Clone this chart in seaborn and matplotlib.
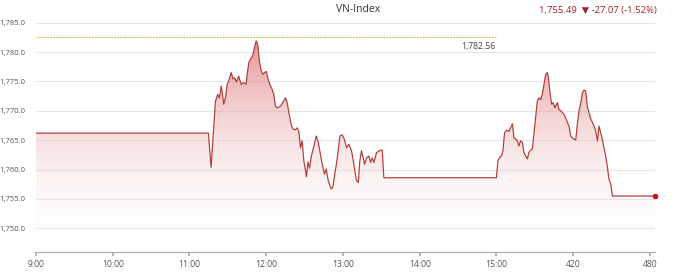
import numpy as np
import pandas as pd
import seaborn as sns
import matplotlib
matplotlib.use("Agg")
import matplotlib.pyplot as plt
from matplotlib.patches import Polygon
from matplotlib.colors import LinearSegmentedColormap

# ---- data ----
minutes = [0, 134.8, 136.9, 140.3, 142.1, 143.4, 144.8, 145.5, 146.8, 148.1, 149.5, 150.7,
           152.6, 154.1, 155.4, 156.7, 158.5, 160.4, 162.2, 164.3, 165.1, 166.4, 168.2, 169.2,
           170.8, 172.1, 173.4, 174.7, 176.1, 177.3, 178.6, 180.0, 181.2, 182.8, 184.7, 185.9,
           187.2, 188.6, 191.2, 193.7, 195.1, 196.4, 197.7, 199.0, 200.3, 201.6, 202.9, 204.2,
           205.5, 206.8, 208.1, 209.4, 211.5, 212.6, 213.9, 215.2, 217.2, 219.1, 220.4, 221.9,
           223.8, 225.6, 226.9, 228.5, 230.8, 232.1, 233.6, 235.5, 237.6, 239.4, 241.2, 242.8,
           244.6, 246.7, 248.5, 250.6, 252.0, 253.2, 254.5, 255.6, 256.9, 258.5, 260.3, 261.6,
           262.9, 264.2, 266.3, 269.4, 270.7, 272.0, 360.0, 361.2, 362.6, 363.9, 365.1, 366.4,
           368.0, 369.8, 371.1, 372.5, 373.7, 375.0, 376.4, 377.6, 378.9, 380.3, 381.5, 382.9,
           384.2, 385.4, 386.8, 388.1, 389.3, 390.7, 392.0, 393.3, 394.6, 395.9, 397.2, 398.5,
           399.8, 400.6, 401.9, 403.2, 404.5, 405.6, 407.7, 408.9, 410.3, 411.6, 412.8, 414.2,
           415.5, 416.8, 418.1, 419.4, 420.7, 422.0, 423.3, 424.6, 426.0, 427.3, 428.5, 429.8,
           431.2, 432.4, 433.7, 435.0, 436.3, 437.6, 439.0, 440.2, 441.5, 442.8, 444.1, 445.5,
           446.8, 448.0, 449.4, 450.7, 483.8]
values = [1766.2, 1766.2, 1760.4, 1771.6, 1772.8, 1772.2, 1774.2, 1773.3, 1771.1, 1772.2, 1774.5, 1775.1,
          1776.5, 1775.4, 1775.6, 1774.9, 1775.9, 1774.5, 1774.8, 1774.5, 1776.2, 1778.2, 1779.0, 1779.2,
          1780.7, 1781.9, 1781.3, 1778.4, 1776.8, 1776.2, 1776.5, 1776.7, 1775.6, 1774.5, 1773.6, 1772.8,
          1770.8, 1770.5, 1770.8, 1771.7, 1772.2, 1771.4, 1769.7, 1768.2, 1767.1, 1766.8, 1766.8, 1767.1,
          1766.5, 1763.7, 1764.9, 1761.5, 1758.8, 1761.3, 1760.2, 1762.2, 1763.9, 1765.7, 1764.9, 1763.2,
          1760.9, 1759.2, 1760.1, 1758.1, 1756.7, 1757.0, 1759.2, 1761.8, 1765.7, 1765.9, 1765.1, 1763.7,
          1764.3, 1763.2, 1760.9, 1758.1, 1757.8, 1761.5, 1763.2, 1762.3, 1760.9, 1762.0, 1762.3, 1761.2,
          1762.0, 1761.2, 1762.9, 1763.3, 1763.3, 1758.6, 1758.6, 1761.5, 1762.1, 1762.3, 1763.2, 1766.3,
          1766.7, 1766.5, 1767.1, 1767.8, 1765.4, 1765.2, 1764.9, 1764.0, 1764.9, 1764.6, 1762.9, 1762.3,
          1761.8, 1762.9, 1763.3, 1763.5, 1766.0, 1768.8, 1771.7, 1772.2, 1771.9, 1772.8, 1774.5, 1776.2,
          1776.5, 1775.7, 1773.1, 1771.1, 1771.4, 1770.5, 1771.4, 1770.2, 1770.0, 1769.7, 1769.4, 1768.8,
          1768.0, 1767.4, 1765.7, 1765.4, 1765.2, 1765.0, 1767.8, 1770.0, 1771.4, 1773.1, 1773.5, 1773.4,
          1770.6, 1769.7, 1768.6, 1768.1, 1767.4, 1766.6, 1764.9, 1767.4, 1766.3, 1765.2, 1763.7, 1762.3,
          1760.4, 1758.4, 1757.5, 1755.5, 1755.49]
ref_value = 1782.56
ref_end = 360
x_ticks = [0, 60, 120, 180, 240, 300, 360, 420, 480]
x_tick_labels = ["9:00", "10:00", "11:00", "12:00", "13:00", "14:00", "15:00", "420", "480"]
y_ticks = [1750, 1755, 1760, 1765, 1770, 1775, 1780, 1785]
title = "VN-Index"
summary = "1,755.49  \u25bc -27.07 (-1.52%)"

df = pd.DataFrame({"minute": minutes, "value": values})

sns.set_theme(style="white")
plt.rcParams["font.family"] = ["Open Sans", "DejaVu Sans"]

fig = plt.figure(figsize=(6.8, 2.72), dpi=100)
ax = fig.add_axes([36 / 680, 1 - 252 / 272, (655 - 36) / 680, (252 - 15) / 272])

ymin, ymax = 1745.97, 1786.3
xmin, xmax = 0, 484
ax.set_xlim(xmin, xmax)
ax.set_ylim(ymin, ymax)

line_color = "#b03a3a"

# gradient fill under the line
grad = np.linspace(0, 1, 256).reshape(-1, 1)
cmap = LinearSegmentedColormap.from_list("g", [(1, 1, 1, 0), (0.86, 0.42, 0.42, 0.75)])
im = ax.imshow(grad, extent=[xmin, xmax, ymin, 1783], origin="lower", aspect="auto",
               cmap=cmap, vmin=0, vmax=1, zorder=1)
poly_pts = [(minutes[0], ymin)] + list(zip(minutes, values)) + [(minutes[-1], ymin)]
clip = Polygon(poly_pts, closed=True, facecolor="none", edgecolor="none")
ax.add_patch(clip)
im.set_clip_path(clip)

sns.lineplot(data=df, x="minute", y="value", ax=ax, color=line_color, linewidth=0.85, zorder=3)
ax.plot([minutes[-1]], [values[-1]], "o", color="#c0171f", markersize=3, zorder=4, clip_on=False)

# reference line
ax.plot([0, ref_end], [ref_value, ref_value], linestyle=(0, (1.5, 1)), color="#e8b83a",
        linewidth=0.8, zorder=2)
ax.text(ref_end - 1, ref_value - 0.8, "1,782.56", ha="right", va="top", fontsize=6.2, color="#444444")

# axes styling
ax.set_yticks(y_ticks)
ax.set_yticklabels([f"{v:,.1f}" for v in y_ticks])
ax.set_xticks(x_ticks)
ax.set_xticklabels(x_tick_labels)
ax.grid(axis="y", color="#e6e6e6", linewidth=0.8)
ax.grid(axis="x", visible=False)
ax.set_axisbelow(True)
for s in ["top", "right", "left"]:
    ax.spines[s].set_visible(False)
ax.spines["bottom"].set_color("#aaaaaa")
ax.spines["bottom"].set_linewidth(0.8)
ax.tick_params(axis="x", bottom=True, length=3, color="#aaaaaa", labelsize=6.2,
               labelcolor="#555555", pad=3)
ax.tick_params(axis="y", left=False, labelsize=5.5, labelcolor="#555555", pad=2)
ax.set_xlabel("")
ax.set_ylabel("")

fig.text(358 / 680, 1 - 10 / 272, title, ha="center", va="center", fontsize=7.5, color="#333333")
fig.text(657 / 680, 1 - 10 / 272, summary, ha="right", va="center", fontsize=6.8, color="#a3222a")

fig.savefig("out.png", dpi=100)
